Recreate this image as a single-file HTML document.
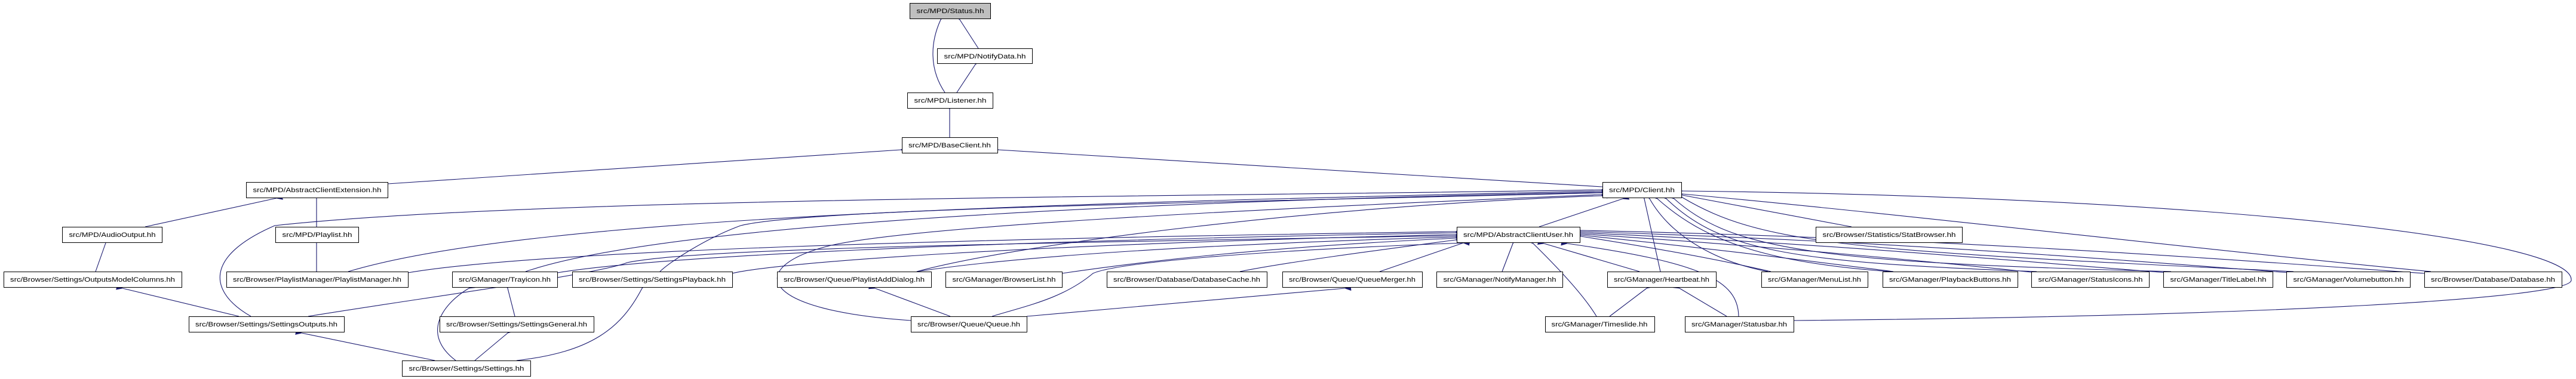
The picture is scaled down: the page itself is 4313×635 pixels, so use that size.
<!DOCTYPE html>
<html><head><meta charset="utf-8"><style>html,body{margin:0;padding:0;background:#fff}svg{display:block}</style></head>
<body>
<svg width="4313" height="635" viewBox="0 0 4313 635" xmlns="http://www.w3.org/2000/svg">
<defs>
<marker id="a" markerUnits="userSpaceOnUse" markerWidth="12" markerHeight="10" refX="1" refY="5" orient="auto-start-reverse">
<path d="M11,0 L0,5 L11,10 Z" fill="#191970"/>
</marker>
</defs>
<g fill="none" stroke="#191970" stroke-width="1.1" marker-start="url(#a)">
<path d="M1575,33 C1558,70 1555,115 1582,155"/>
<path d="M1607,33 L1638,81"/>
<path d="M1633,108 L1602,155"/>
<path d="M1590,183 L1590,230"/>
<path d="M1508,251 L649,308"/>
<path d="M1672,251 L2683,313"/>
<path d="M463,332 L243,380"/>
<path d="M530,332 L530,380"/>
<path d="M177,407 L160,455"/>
<path d="M530,407 L530,455"/>
<path d="M205,483 L400,530"/>
<path d="M505,558 L728,604"/>
<path d="M850,558 L795,604"/>
<path d="M785,483 C740,510 705,560 763,604"/>
<path d="M850,483 L862,530"/>
<path d="M1075,483 C1040,550 990,590 865,604"/>
<path d="M2681,318 C2000,330 900,330 460,378 C340,430 350,490 420,530"/>
<path d="M2681,320 C1800,340 900,360 583,455"/>
<path d="M2681,322 C1800,340 1100,380 880,455"/>
<path d="M2681,323 C2000,340 1350,350 1240,378 C1180,400 1120,440 1105,455"/>
<path d="M2681,326 C2100,350 1500,380 1380,414 C1250,450 1270,520 1525,537"/>
<path d="M2681,328 C2200,345 1700,410 1535,455"/>
<path d="M2717,333 L2577,380"/>
<path d="M2753,333 L2780,455"/>
<path d="M2762,333 C2800,400 2880,440 2960,455"/>
<path d="M2775,333 C2850,400 2950,440 3165,455"/>
<path d="M2790,333 C2880,420 3000,440 3410,455"/>
<path d="M2803,333 C2900,420 3050,440 3635,455"/>
<path d="M2817,331 C2950,410 3100,420 3840,455"/>
<path d="M2817,327 L3100,380"/>
<path d="M2817,325 C3200,360 3700,420 4070,455"/>
<path d="M2817,320 C3700,330 4313,400 4305,470 C4300,500 3800,530 3003,537"/>
<path d="M2437,388 C1600,400 900,420 683,457"/>
<path d="M2437,390 C1600,405 1100,430 933,457"/>
<path d="M2437,393 C1700,410 1300,440 1226,458"/>
<path d="M2437,395 C1500,410 1150,420 1050,440 C1000,460 700,500 516,530"/>
<path d="M2437,397 C2000,410 1700,430 1535,455"/>
<path d="M2437,399 C2100,415 1900,440 1778,458"/>
<path d="M2437,402 C2300,420 2150,440 2076,455"/>
<path d="M2450,407 L2310,455"/>
<path d="M2533,408 L2515,455"/>
<path d="M2450,407 C2100,420 1870,440 1830,458 C1780,500 1720,512 1661,530"/>
<path d="M2585,408 L2745,455"/>
<path d="M2567,408 C2620,460 2655,500 2673,530"/>
<path d="M2624,408 C2850,440 2910,470 2911,530"/>
<path d="M2647,396 C2800,420 2900,440 2965,455"/>
<path d="M2647,394 C2900,420 3050,440 3170,455"/>
<path d="M2647,392 C3000,415 3250,440 3410,457"/>
<path d="M2647,390 C3100,410 3400,440 3630,457"/>
<path d="M2647,388 C3200,405 3600,440 3835,457"/>
<path d="M2647,386 C3300,400 3800,440 4059,458"/>
<path d="M2252,483 L1719,530"/>
<path d="M1465,483 L1591,530"/>
<path d="M2757,483 L2695,530"/>
<path d="M2812,483 L2891,530"/>
</g>
<g font-family="Liberation Sans, sans-serif" font-size="11" fill="#000" text-anchor="middle" stroke="none">
<g stroke="#000" stroke-width="1" fill="#fff">
<rect x="1523.5" y="5.5" width="135" height="26" fill="#bfbfbf"/>
<rect x="1569.5" y="81.5" width="159" height="25"/>
<rect x="1519.5" y="155.5" width="143" height="26"/>
<rect x="1510.5" y="230.5" width="160" height="26"/>
<rect x="412.5" y="305.5" width="237" height="26"/>
<rect x="2683.5" y="305.5" width="132" height="26"/>
<rect x="104.5" y="380.5" width="167" height="26"/>
<rect x="461.5" y="380.5" width="139" height="26"/>
<rect x="2439.5" y="380.5" width="206" height="26"/>
<rect x="3040.5" y="380.5" width="245" height="26"/>
<rect x="6.5" y="455.5" width="298" height="26"/>
<rect x="379.5" y="455.5" width="304" height="26"/>
<rect x="757.5" y="455.5" width="176" height="26"/>
<rect x="958.5" y="455.5" width="268" height="26"/>
<rect x="1301.5" y="455.5" width="258" height="26"/>
<rect x="1583.5" y="455.5" width="195" height="26"/>
<rect x="1853.5" y="455.5" width="268" height="26"/>
<rect x="2147.5" y="455.5" width="234" height="26"/>
<rect x="2405.5" y="455.5" width="211" height="26"/>
<rect x="2691.5" y="455.5" width="182" height="26"/>
<rect x="2949.5" y="455.5" width="178" height="26"/>
<rect x="3152.5" y="455.5" width="226" height="26"/>
<rect x="3401.5" y="455.5" width="197" height="26"/>
<rect x="3622.5" y="455.5" width="183" height="26"/>
<rect x="3828.5" y="455.5" width="207" height="26"/>
<rect x="4059.5" y="455.5" width="230" height="26"/>
<rect x="316.5" y="530.5" width="260" height="26"/>
<rect x="736.5" y="530.5" width="258" height="26"/>
<rect x="1525.5" y="530.5" width="194" height="26"/>
<rect x="2587.5" y="530.5" width="183" height="26"/>
<rect x="2821.5" y="530.5" width="182" height="26"/>
<rect x="673.5" y="604.5" width="215" height="26"/>
</g>
<g>
<text x="1591" y="22" textLength="113" lengthAdjust="spacingAndGlyphs">src/MPD/Status.hh</text>
<text x="1649" y="98" textLength="137" lengthAdjust="spacingAndGlyphs">src/MPD/NotifyData.hh</text>
<text x="1591" y="172" textLength="121" lengthAdjust="spacingAndGlyphs">src/MPD/Listener.hh</text>
<text x="1590" y="247" textLength="138" lengthAdjust="spacingAndGlyphs">src/MPD/BaseClient.hh</text>
<text x="531" y="322" textLength="215" lengthAdjust="spacingAndGlyphs">src/MPD/AbstractClientExtension.hh</text>
<text x="2749" y="322" textLength="110" lengthAdjust="spacingAndGlyphs">src/MPD/Client.hh</text>
<text x="188" y="397" textLength="145" lengthAdjust="spacingAndGlyphs">src/MPD/AudioOutput.hh</text>
<text x="531" y="397" textLength="117" lengthAdjust="spacingAndGlyphs">src/MPD/Playlist.hh</text>
<text x="2542" y="397" textLength="184" lengthAdjust="spacingAndGlyphs">src/MPD/AbstractClientUser.hh</text>
<text x="3163" y="397" textLength="223" lengthAdjust="spacingAndGlyphs">src/Browser/Statistics/StatBrowser.hh</text>
<text x="155" y="472" textLength="276" lengthAdjust="spacingAndGlyphs">src/Browser/Settings/OutputsModelColumns.hh</text>
<text x="531" y="472" textLength="282" lengthAdjust="spacingAndGlyphs">src/Browser/PlaylistManager/PlaylistManager.hh</text>
<text x="845" y="472" textLength="154" lengthAdjust="spacingAndGlyphs">src/GManager/Trayicon.hh</text>
<text x="1092" y="472" textLength="246" lengthAdjust="spacingAndGlyphs">src/Browser/Settings/SettingsPlayback.hh</text>
<text x="1430" y="472" textLength="236" lengthAdjust="spacingAndGlyphs">src/Browser/Queue/PlaylistAddDialog.hh</text>
<text x="1681" y="472" textLength="173" lengthAdjust="spacingAndGlyphs">src/GManager/BrowserList.hh</text>
<text x="1987" y="472" textLength="246" lengthAdjust="spacingAndGlyphs">src/Browser/Database/DatabaseCache.hh</text>
<text x="2264" y="472" textLength="212" lengthAdjust="spacingAndGlyphs">src/Browser/Queue/QueueMerger.hh</text>
<text x="2511" y="472" textLength="189" lengthAdjust="spacingAndGlyphs">src/GManager/NotifyManager.hh</text>
<text x="2782" y="472" textLength="160" lengthAdjust="spacingAndGlyphs">src/GManager/Heartbeat.hh</text>
<text x="3038" y="472" textLength="156" lengthAdjust="spacingAndGlyphs">src/GManager/MenuList.hh</text>
<text x="3265" y="472" textLength="204" lengthAdjust="spacingAndGlyphs">src/GManager/PlaybackButtons.hh</text>
<text x="3500" y="472" textLength="175" lengthAdjust="spacingAndGlyphs">src/GManager/StatusIcons.hh</text>
<text x="3714" y="472" textLength="161" lengthAdjust="spacingAndGlyphs">src/GManager/TitleLabel.hh</text>
<text x="3932" y="472" textLength="185" lengthAdjust="spacingAndGlyphs">src/GManager/Volumebutton.hh</text>
<text x="4174" y="472" textLength="208" lengthAdjust="spacingAndGlyphs">src/Browser/Database/Database.hh</text>
<text x="446" y="547" textLength="238" lengthAdjust="spacingAndGlyphs">src/Browser/Settings/SettingsOutputs.hh</text>
<text x="865" y="547" textLength="236" lengthAdjust="spacingAndGlyphs">src/Browser/Settings/SettingsGeneral.hh</text>
<text x="1622" y="547" textLength="172" lengthAdjust="spacingAndGlyphs">src/Browser/Queue/Queue.hh</text>
<text x="2678" y="547" textLength="161" lengthAdjust="spacingAndGlyphs">src/GManager/Timeslide.hh</text>
<text x="2912" y="547" textLength="160" lengthAdjust="spacingAndGlyphs">src/GManager/Statusbar.hh</text>
<text x="781" y="621" textLength="193" lengthAdjust="spacingAndGlyphs">src/Browser/Settings/Settings.hh</text>
</g>
</g>
</svg>
</body></html>
